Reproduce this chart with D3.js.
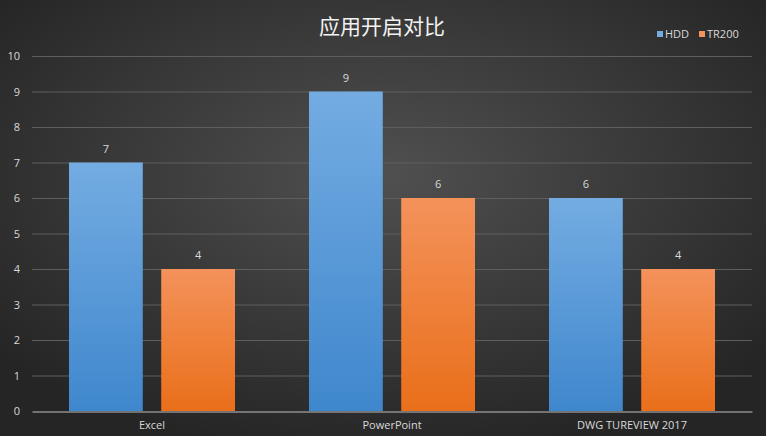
<!DOCTYPE html>
<html>
<head>
<meta charset="utf-8">
<script src="https://cdn.jsdelivr.net/npm/d3@7"></script>
<style>
  body { margin: 0; background: #2b2b2b; }
  svg { display: block; }
</style>
</head>
<body>
<script>
var categories = ['Excel', 'PowerPoint', 'DWG TUREVIEW 2017'];
var seriesNames = ['HDD', 'TR200'];
var hddValues = [7, 9, 6];
var tr200Values = [4, 6, 4];
var yTicks = [0, 1, 2, 3, 4, 5, 6, 7, 8, 9, 10];

var screen = { width: 766, height: 436 };
var margins = { top: 56, bottom: 25, left: 32, right: 14 };
var width = screen.width - margins.left - margins.right;
var height = screen.height - margins.top - margins.bottom;

var font = '"Segoe UI", "Open Sans", "Noto Sans", sans-serif';

var svg = d3.select('body')
            .append('svg')
            .attr('width', screen.width)
            .attr('height', screen.height);

var defs = svg.append('defs');
var bg = defs.append('radialGradient')
             .attr('id', 'bg')
             .attr('cx', '50%').attr('cy', '40%').attr('r', '65%');
bg.append('stop').attr('offset', '0%').attr('stop-color', '#505050');
bg.append('stop').attr('offset', '100%').attr('stop-color', '#252525');

var colors = [['#74ace2', '#3f87cd'], ['#f4925b', '#e96f1a']];
colors.forEach(function(c, i){
  var g = defs.append('linearGradient')
              .attr('id', 'bar' + i)
              .attr('x1', 0).attr('y1', 0).attr('x2', 0).attr('y2', 1);
  g.append('stop').attr('offset', '0%').attr('stop-color', c[0]);
  g.append('stop').attr('offset', '100%').attr('stop-color', c[1]);
});

svg.append('rect')
   .attr('width', screen.width)
   .attr('height', screen.height)
   .attr('fill', 'url(#bg)');

var x0 = d3.scaleBand()
           .domain(categories)
           .range([margins.left, margins.left + width])
           .paddingInner(0)
           .paddingOuter(0);
var x1 = d3.scaleBand()
           .domain(seriesNames)
           .range([37, x0.bandwidth() - 37])
           .paddingInner(0.2);
var yScale = d3.scaleLinear()
               .domain([0, 10])
               .range([margins.top + height, margins.top]);

// gridlines
svg.append('g')
   .selectAll('line')
   .data(yTicks.slice(1))
   .enter()
   .append('line')
   .attr('x1', margins.left)
   .attr('x2', margins.left + width)
   .attr('y1', function(d){ return yScale(d) + 0.5; })
   .attr('y2', function(d){ return yScale(d) + 0.5; })
   .attr('stroke', '#5e5e5e')
   .attr('stroke-width', 1);

// y axis labels
var yAxis = d3.axisLeft(yScale)
              .tickValues(yTicks)
              .tickSize(0)
              .tickPadding(12);
var yg = svg.append('g')
   .attr('transform', 'translate(' + margins.left + ',0)')
   .call(yAxis);
yg.select('.domain').remove();
yg.selectAll('text')
  .attr('fill', '#d9d9d9')
  .style('font-family', font)
  .style('font-size', '11px');

var rows = categories.map(function(c, i){
  return { cat: c, values: [hddValues[i], tr200Values[i]] };
});

var groups = svg.append('g')
  .selectAll('g')
  .data(rows)
  .enter()
  .append('g')
  .attr('transform', function(d){ return 'translate(' + x0(d.cat) + ',0)'; });

groups.selectAll('rect')
  .data(function(d){ return d.values.map(function(v, i){ return { s: seriesNames[i], v: v, i: i }; }); })
  .enter()
  .append('rect')
  .attr('x', function(d){ return x1(d.s); })
  .attr('y', function(d){ return yScale(d.v); })
  .attr('width', x1.bandwidth())
  .attr('height', function(d){ return yScale(0) - yScale(d.v); })
  .attr('fill', function(d){ return 'url(#bar' + d.i + ')'; });

groups.selectAll('text.lbl')
  .data(function(d){ return d.values.map(function(v, i){ return { s: seriesNames[i], v: v }; }); })
  .enter()
  .append('text')
  .attr('class', 'lbl')
  .attr('x', function(d){ return x1(d.s) + x1.bandwidth() / 2; })
  .attr('y', function(d){ return yScale(d.v) - 10; })
  .attr('text-anchor', 'middle')
  .attr('fill', '#d9d9d9')
  .style('font-family', font)
  .style('font-size', '11px')
  .text(function(d){ return d.v; });

// x axis
var xAxis = d3.axisBottom(x0)
              .tickSize(0)
              .tickPadding(10);
var xg = svg.append('g')
   .attr('transform', 'translate(0,' + (yScale(0) + 0.5) + ')')
   .call(xAxis);
xg.select('.domain').attr('stroke', '#bfbfbf');
xg.selectAll('text')
  .attr('fill', '#d9d9d9')
  .style('font-family', font)
  .style('font-size', '11px');

// title
svg.append('text')
   .attr('x', 382)
   .attr('y', 34)
   .attr('text-anchor', 'middle')
   .attr('fill', '#f2f2f2')
   .style('font-family', '"Noto Sans CJK SC", sans-serif')
   .style('font-size', '21px')
   .text('应用开启对比');

// legend
var legendX = [657, 699];
var legend = svg.append('g')
  .selectAll('g')
  .data(seriesNames)
  .enter()
  .append('g')
  .attr('transform', function(d, i){ return 'translate(' + legendX[i] + ',30)'; });
legend.append('rect')
  .attr('width', 6).attr('height', 6)
  .attr('y', 1)
  .attr('fill', function(d, i){ return colors[i][0]; });
legend.append('text')
  .attr('x', 8)
  .attr('y', 8)
  .attr('fill', '#d9d9d9')
  .style('font-family', font)
  .style('font-size', '11px')
  .text(function(d){ return d; });
</script>
</body>
</html>
